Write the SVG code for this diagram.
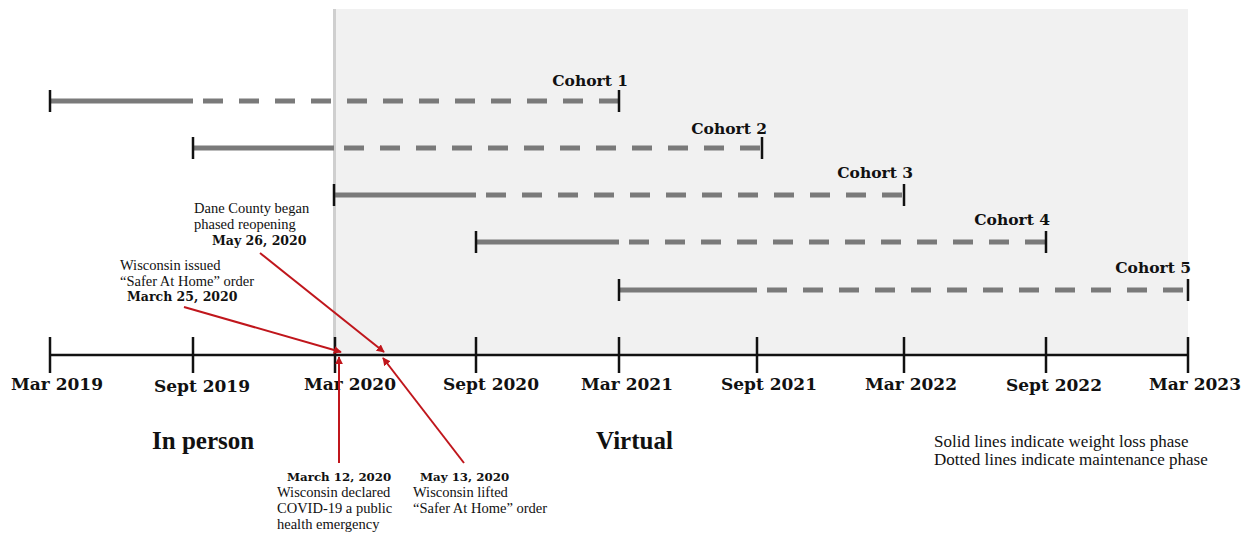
<svg xmlns="http://www.w3.org/2000/svg" width="1253" height="538" viewBox="0 0 1253 538">
<style>
text{font-family:"Liberation Serif","DejaVu Serif",serif;fill:#111}
.ax{font-family:"DejaVu Serif",serif;font-size:17px;font-weight:bold;text-anchor:middle}
.co{font-family:"DejaVu Serif",serif;font-size:15.5px;font-weight:bold;text-anchor:end}
.sm{font-size:14.5px}
.smb{font-family:"DejaVu Serif",serif;font-size:12.5px;font-weight:bold}
.smb2{font-family:"DejaVu Serif",serif;font-size:11.8px;font-weight:bold}
.big{font-size:25px;font-weight:bold}
.leg{font-size:17px}
.tick{stroke:#111;stroke-width:2.5}
.solid{stroke:#7a7a7a;stroke-width:5}
.dash{stroke:#7a7a7a;stroke-width:5;stroke-dasharray:20 16}
.red{stroke:#c0161c;stroke-width:2;fill:none;marker-end:url(#ah)}
</style>
<defs>
<marker id="ah" viewBox="0 0 10 10" refX="9" refY="5" markerWidth="4" markerHeight="4" orient="auto">
<path d="M0,0 L10,5 L0,10 z" fill="#c0161c"/>
</marker>
</defs>
<rect x="0" y="0" width="1253" height="538" fill="#fff"/>
<rect id="virtual-bg" x="333" y="9" width="855" height="346" fill="#f1f1f1"/>
<rect x="333" y="9" width="3" height="346" fill="#cfcfcf"/>

<g id="axis">
<line x1="50" y1="355" x2="1188" y2="355" stroke="#111" stroke-width="2.5"/>
<line class="tick" x1="50" y1="337" x2="50" y2="373"/>
<line class="tick" x1="193" y1="337" x2="193" y2="373"/>
<line class="tick" x1="335" y1="337" x2="335" y2="373"/>
<line class="tick" x1="476" y1="337" x2="476" y2="373"/>
<line class="tick" x1="619" y1="337" x2="619" y2="373"/>
<line class="tick" x1="757" y1="337" x2="757" y2="373"/>
<line class="tick" x1="904" y1="337" x2="904" y2="373"/>
<line class="tick" x1="1046" y1="337" x2="1046" y2="373"/>
<line class="tick" x1="1188" y1="337" x2="1188" y2="373"/>
<text class="ax" x="57" y="390">Mar 2019</text>
<text class="ax" x="202" y="392">Sept 2019</text>
<text class="ax" x="350" y="390">Mar 2020</text>
<text class="ax" x="491" y="390">Sept 2020</text>
<text class="ax" x="627" y="390">Mar 2021</text>
<text class="ax" x="769" y="390">Sept 2021</text>
<text class="ax" x="911" y="390">Mar 2022</text>
<text class="ax" x="1054" y="391">Sept 2022</text>
<text class="ax" x="1195" y="390">Mar 2023</text>
</g>

<g id="cohort1">
<line class="solid" x1="50" y1="101" x2="193" y2="101"/>
<line class="dash" x1="203" y1="101" x2="619" y2="101"/>
<line class="tick" x1="50" y1="90" x2="50" y2="112"/>
<line class="tick" x1="619" y1="90" x2="619" y2="112"/>
<text class="co" x="628" y="86">Cohort 1</text>
</g>
<g id="cohort2">
<line class="solid" x1="193" y1="148" x2="334" y2="148"/>
<line class="dash" x1="344" y1="148" x2="762" y2="148"/>
<line class="tick" x1="193" y1="137" x2="193" y2="159"/>
<line class="tick" x1="762" y1="137" x2="762" y2="159"/>
<text class="co" x="767" y="134">Cohort 2</text>
</g>
<g id="cohort3">
<line class="solid" x1="334" y1="195" x2="476" y2="195"/>
<line class="dash" x1="486" y1="195" x2="904" y2="195"/>
<line class="tick" x1="334" y1="184" x2="334" y2="206"/>
<line class="tick" x1="904" y1="184" x2="904" y2="206"/>
<text class="co" x="913" y="178">Cohort 3</text>
</g>
<g id="cohort4">
<line class="solid" x1="476" y1="242" x2="619" y2="242"/>
<line class="dash" x1="629" y1="242" x2="1046" y2="242"/>
<line class="tick" x1="476" y1="231" x2="476" y2="253"/>
<line class="tick" x1="1046" y1="231" x2="1046" y2="253"/>
<text class="co" x="1050" y="225">Cohort 4</text>
</g>
<g id="cohort5">
<line class="solid" x1="619" y1="290" x2="757" y2="290"/>
<line class="dash" x1="767" y1="290" x2="1188" y2="290"/>
<line class="tick" x1="619" y1="279" x2="619" y2="301"/>
<line class="tick" x1="1188" y1="279" x2="1188" y2="301"/>
<text class="co" x="1191" y="273">Cohort 5</text>
</g>

<g id="connectors">
<line class="red" x1="184" y1="307" x2="341" y2="352"/>
<line class="red" x1="260" y1="253" x2="384" y2="352"/>
<line class="red" x1="339" y1="463" x2="339" y2="357"/>
<line class="red" x1="464" y1="463" x2="383" y2="358"/>
</g>

<g id="note-may26">
<text class="sm" x="194" y="213">Dane County began</text>
<text class="sm" x="194" y="229">phased reopening</text>
<text class="smb" x="212" y="245">May 26, 2020</text>
</g>
<g id="note-mar25">
<text class="sm" x="120" y="270">Wisconsin issued</text>
<text class="sm" x="120" y="286">“Safer At Home” order</text>
<text class="smb" x="127" y="301">March 25, 2020</text>
</g>
<g id="note-mar12">
<text class="smb2" x="287" y="481">March 12, 2020</text>
<text class="sm" x="277" y="497">Wisconsin declared</text>
<text class="sm" x="277" y="513">COVID-19 a public</text>
<text class="sm" x="277" y="529">health emergency</text>
</g>
<g id="note-may13">
<text class="smb2" x="420" y="481">May 13, 2020</text>
<text class="sm" x="413" y="497">Wisconsin lifted</text>
<text class="sm" x="413" y="513">“Safer At Home” order</text>
</g>

<g id="phases">
<text class="big" x="152" y="449">In person</text>
<text class="big" x="596" y="449">Virtual</text>
</g>
<g id="legend">
<text class="leg" x="934" y="447">Solid lines indicate weight loss phase</text>
<text class="leg" x="934" y="465">Dotted lines indicate maintenance phase</text>
</g>
</svg>
